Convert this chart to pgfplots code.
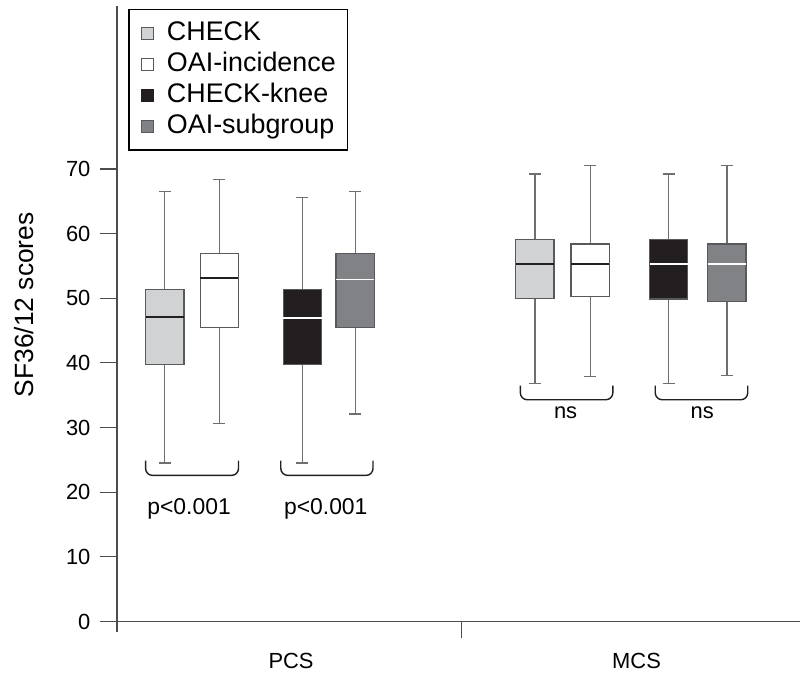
\documentclass[border=0pt]{standalone}
\usepackage{fontspec}
\setmainfont{Liberation Sans}
\usepackage{pgfplots}
\pgfplotsset{compat=1.18}
\usepgfplotslibrary{statistics}
\definecolor{chk}{HTML}{D1D2D4}
\definecolor{knee}{HTML}{231F20}
\definecolor{sub}{HTML}{808285}
\definecolor{edge}{HTML}{58595B}
\definecolor{whisk}{HTML}{6D6E71}
\definecolor{axisc}{HTML}{4D4D4F}
\begin{document}
\begin{tikzpicture}
\begin{axis}[
  at={(117bp,53bp)}, anchor=south west,
  scale only axis, width=684bp, height=616bp,
  xmin=0, xmax=684, ymin=0, ymax=95.2,
  clip=false,
  axis x line=bottom, axis y line=left,
  axis line style={-, draw=axisc, line width=1.2bp},
  xtick=\empty,
  ytick={0,10,20,30,40,50,60,70},
  tick align=outside,
  major tick length=17bp,
  tick style={draw=axisc, line width=1.2bp},
  /pgf/number format/assume math mode=true,
  yticklabel style={font=\fontsize{22}{26}\selectfont, xshift=-6bp},
  ylabel={SF36/12 scores},
  every axis y label/.style={at={(axis description cs:-0.1364,0.5146)}, rotate=90, anchor=center, font=\fontsize{26.5}{30}\selectfont},
  legend image code/.code={\draw[#1] (0bp,-6.2bp) rectangle (12.4bp,6.2bp);},
  legend style={at={(axis description cs:0.0165,0.9951)}, anchor=north west,
    draw=black, line width=1.4bp, font=\fontsize{27}{31}\selectfont,
    inner xsep=12bp, inner ysep=11.5bp, row sep=6.5bp, column sep=12.5bp,
    nodes={inner sep=0pt, text height=19bp, text depth=5.5bp, anchor=west}},
  legend cell align=left,
  boxplot/draw direction=y,
  boxplot/box extend=38.3,
  boxplot/whisker extend=12,
  boxplot/every whisker/.style={draw=whisk, line width=1.3bp},
  boxplot/every box/.style={draw=edge, line width=1.3bp},
]
\addlegendimage{fill=chk, draw=edge, line width=1.2bp}
\addlegendentry{CHECK}
\addlegendimage{fill=white, draw=edge, line width=1.2bp}
\addlegendentry{OAI-incidence}
\addlegendimage{fill=knee, draw=knee, line width=1.2bp}
\addlegendentry{CHECK-knee}
\addlegendimage{fill=sub, draw=edge, line width=1.2bp}
\addlegendentry{OAI-subgroup}

% PCS
\addplot[forget plot, fill=chk, draw=edge, line width=1.3bp,
  boxplot prepared={draw position=47.9, lower whisker=24.5, lower quartile=39.8, median=47.1, upper quartile=51.4, upper whisker=66.5},
  boxplot/every median/.style={draw=knee, line width=1.6bp}] coordinates {};
\addplot[forget plot, fill=white, draw=edge, line width=1.3bp,
  boxplot prepared={draw position=102.5, lower whisker=30.6, lower quartile=45.5, median=53.1, upper quartile=56.9, upper whisker=68.4},
  boxplot/every median/.style={draw=knee, line width=1.6bp}] coordinates {};
\addplot[forget plot, fill=knee, draw=edge, line width=1.3bp,
  boxplot prepared={draw position=185.7, lower whisker=24.5, lower quartile=39.8, median=46.9, upper quartile=51.4, upper whisker=65.6},
  boxplot/every median/.style={draw=white, line width=1.6bp}] coordinates {};
\addplot[forget plot, fill=sub, draw=edge, line width=1.3bp,
  boxplot prepared={draw position=238.5, lower whisker=32.1, lower quartile=45.5, median=52.9, upper quartile=56.9, upper whisker=66.5},
  boxplot/every median/.style={draw=white, line width=1.6bp}] coordinates {};
% MCS
\addplot[forget plot, fill=chk, draw=edge, line width=1.3bp,
  boxplot prepared={draw position=418.3, lower whisker=36.8, lower quartile=50.0, median=55.3, upper quartile=59.1, upper whisker=69.2},
  boxplot/every median/.style={draw=knee, line width=1.6bp}] coordinates {};
\addplot[forget plot, fill=white, draw=edge, line width=1.3bp,
  boxplot prepared={draw position=473.7, lower whisker=37.9, lower quartile=50.3, median=55.3, upper quartile=58.4, upper whisker=70.5},
  boxplot/every median/.style={draw=knee, line width=1.6bp}] coordinates {};
\addplot[forget plot, fill=knee, draw=edge, line width=1.3bp,
  boxplot prepared={draw position=552.2, lower whisker=36.8, lower quartile=49.9, median=55.3, upper quartile=59.1, upper whisker=69.2},
  boxplot/every median/.style={draw=white, line width=1.6bp}] coordinates {};
\addplot[forget plot, fill=sub, draw=edge, line width=1.3bp,
  boxplot prepared={draw position=610.5, lower whisker=38.1, lower quartile=49.5, median=55.3, upper quartile=58.4, upper whisker=70.5},
  boxplot/every median/.style={draw=white, line width=1.6bp}] coordinates {};

% x ticks
\draw[axisc, line width=1.2bp] (axis cs:0,0) -- ++(0,-10bp);
\draw[axisc, line width=1.2bp] (axis cs:345,0) -- ++(0,-16bp);
% category labels
\node[font=\fontsize{22}{26}\selectfont] at (axis cs:174.3,0) [yshift=-39bp] {PCS};
\node[font=\fontsize{22}{26}\selectfont] at (axis cs:520,0) [yshift=-39bp] {MCS};
% braces
\draw[knee, line width=1.4bp, rounded corners=7bp] (axis cs:28.7,24.9) -- (axis cs:28.7,22.6) -- (axis cs:121.7,22.6) -- (axis cs:121.7,24.9);
\draw[knee, line width=1.4bp, rounded corners=7bp] (axis cs:164,24.9) -- (axis cs:164,22.6) -- (axis cs:256.3,22.6) -- (axis cs:256.3,24.9);
\draw[knee, line width=1.4bp, rounded corners=7bp] (axis cs:403.7,36.5) -- (axis cs:403.7,34.3) -- (axis cs:496.3,34.3) -- (axis cs:496.3,36.5);
\draw[knee, line width=1.4bp, rounded corners=7bp] (axis cs:538.7,36.5) -- (axis cs:538.7,34.3) -- (axis cs:631.3,34.3) -- (axis cs:631.3,36.5);
\node[font=\fontsize{23}{27}\selectfont, anchor=base] at (axis cs:72.2,16.54) {p<0.001};
\node[font=\fontsize{23}{27}\selectfont, anchor=base] at (axis cs:209,16.54) {p<0.001};
\node[font=\fontsize{22}{26}\selectfont, anchor=base] at (axis cs:449,31.38) {ns};
\node[font=\fontsize{22}{26}\selectfont, anchor=base] at (axis cs:585.7,31.38) {ns};
\end{axis}
\path (0,0) rectangle (801bp,675bp);
\end{tikzpicture}
\end{document}
